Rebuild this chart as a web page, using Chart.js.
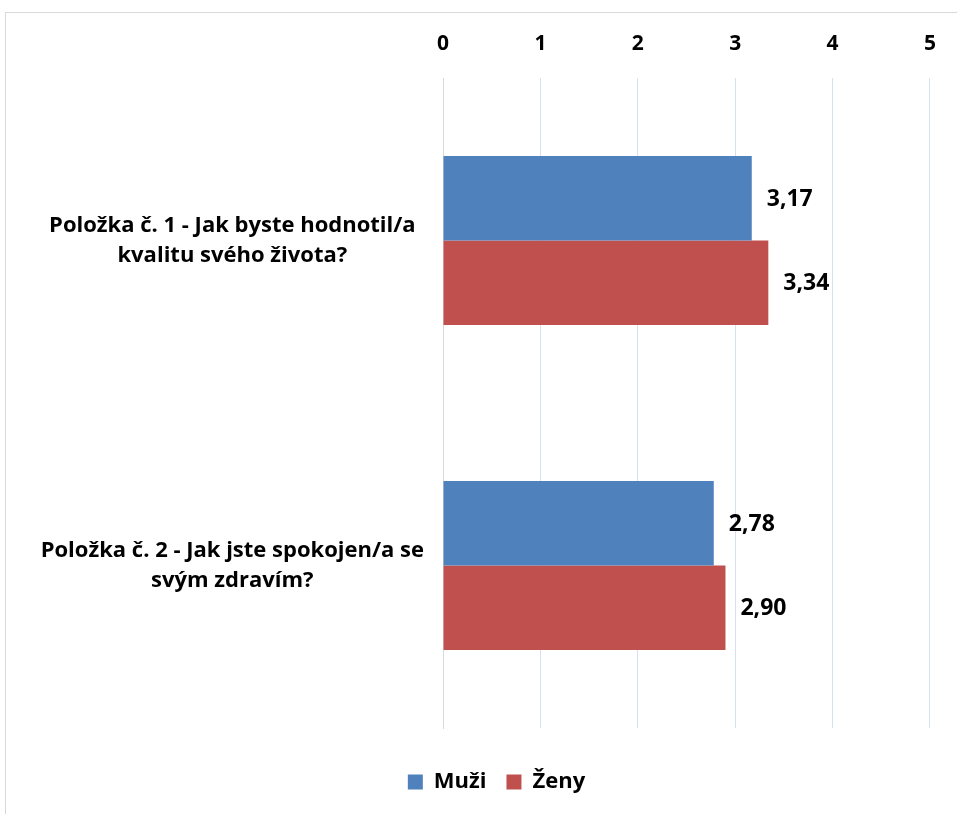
<!DOCTYPE html>
<html>
<head>
<meta charset="utf-8">
<script src="https://cdn.jsdelivr.net/npm/chart.js@4"></script>
<style>
  html, body { margin: 0; padding: 0; background: #fff; }
  #wrap { position: relative; width: 957px; height: 814px; }
  #frame { position: absolute; left: 5px; top: 12px; right: -5px; bottom: -5px;
           border-top: 1px solid #d9d9d9; border-left: 1px solid #d9d9d9; }
  canvas { position: absolute; left: 0; top: 0; }
</style>
</head>
<body>
<div id="wrap">
  <div id="frame"></div>
  <canvas id="chart" width="957" height="814"></canvas>
</div>
<script>
// data
const categories = [
  ['Položka č. 1 - Jak byste hodnotil/a', 'kvalitu svého života?'],
  ['Položka č. 2 - Jak jste spokojen/a se', 'svým zdravím?']
];
const muzi = [3.17, 2.78];
const zeny = [3.34, 2.90];
const seriesNames = ['Muži', 'Ženy'];

const FONT = '"Open Sans", Lato, sans-serif';

// labels right of bars, Czech decimal comma
const valueLabels = {
  id: 'valueLabels',
  afterLayout(chart) {
    // legend sits a bit right of centre in the original
    chart.legend.left += 22;
    chart.legend.right += 22;
  },
  afterDatasetsDraw(chart) {
    const ctx = chart.ctx;
    ctx.save();
    ctx.font = 'bold 23px ' + FONT;
    ctx.fillStyle = '#000';
    ctx.textAlign = 'left';
    ctx.textBaseline = 'middle';
    chart.data.datasets.forEach((ds, i) => {
      chart.getDatasetMeta(i).data.forEach((bar, j) => {
        ctx.fillText(ds.data[j].toFixed(2).replace('.', ','), bar.x + 15, bar.y + 1);
      });
    });
    ctx.restore();
  }
};

new Chart(document.getElementById('chart'), {
  type: 'bar',
  data: {
    labels: categories,
    datasets: [
      { label: seriesNames[0], data: muzi, backgroundColor: '#4f81bd' },
      { label: seriesNames[1], data: zeny, backgroundColor: '#c0504d' }
    ]
  },
  options: {
    indexAxis: 'y',
    responsive: false,
    animation: false,
    categoryPercentage: 0.52,
    barPercentage: 1,
    layout: { padding: { left: 10, top: 12, right: 18, bottom: 11 } },
    scales: {
      x: {
        position: 'top',
        min: 0, max: 5,
        ticks: { stepSize: 1, padding: 21, color: '#000', font: { family: FONT, size: 21, weight: 'bold' } },
        grid: { color: '#d6e0ef', drawTicks: false },
        border: { display: false },
        afterFit(scale) { scale.height = 66; }
      },
      y: {
        ticks: { color: '#000', crossAlign: 'center', padding: 19,
                 font: { family: FONT, size: 22, weight: 'bold', lineHeight: 1.36 } },
        grid: { display: false, drawTicks: false },
        border: { color: '#d9d9d9', width: 1 },
        afterFit(scale) { scale.width = 433; }
      }
    },
    plugins: {
      legend: {
        position: 'bottom',
        title: { display: true, text: '', padding: 0, font: { size: 10, lineHeight: 2.3 } },
        labels: { color: '#000', boxWidth: 15, boxHeight: 15, padding: 20,
                  font: { family: FONT, size: 22, weight: 'bold' } }
      },
      tooltip: { enabled: false }
    }
  },
  plugins: [valueLabels]
});
</script>
</body>
</html>
